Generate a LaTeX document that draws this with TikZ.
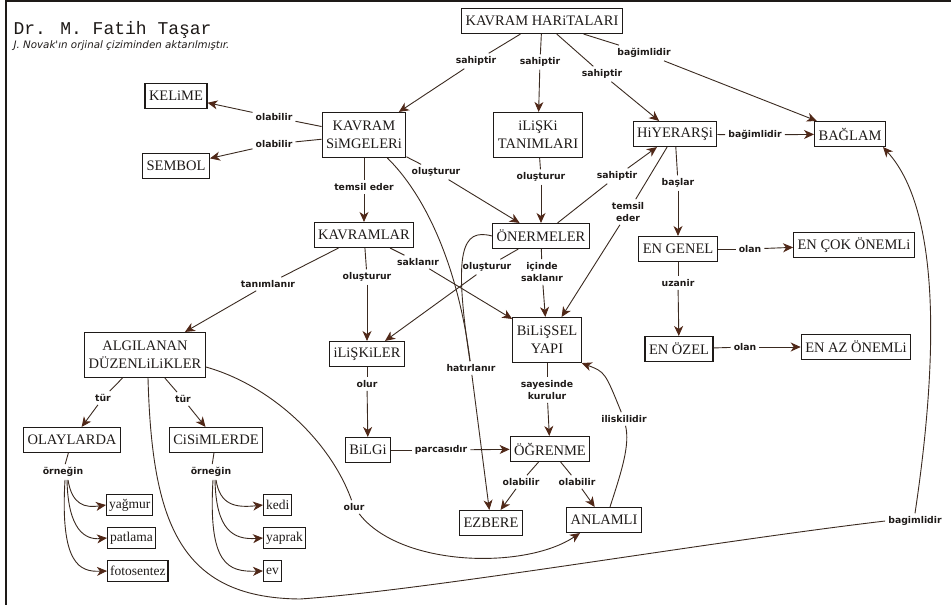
\documentclass[tikz,border=0pt]{standalone}
\usepackage{fontspec}
\setmainfont{Liberation Serif}
\newfontfamily\etiketyazi{DejaVu Sans}
\newfontfamily\daktilo{Liberation Mono}
\usetikzlibrary{arrows.meta}
\definecolor{cizgi}{RGB}{58,42,32}
\definecolor{okrengi}{RGB}{80,40,24}
\definecolor{yazi}{RGB}{30,26,24}

\begin{document}
\begin{tikzpicture}[x=1pt, y=-1pt,
      kutu/.style={rectangle, draw=yazi, line width=1.1pt, text=yazi, inner xsep=4pt, inner ysep=3pt, minimum height=25pt, font=\fontsize{14.5}{18}\selectfont},
      kutu2/.style={kutu, align=center, minimum height=45pt},
      kucuk/.style={kutu, minimum height=21pt, inner xsep=2.5pt, font=\fontsize{13.5}{15}\selectfont},
      etiket/.style={inner sep=3pt, text=yazi, align=center, font=\etiketyazi\bfseries\fontsize{9.3}{12}\selectfont},
      ok/.style={-{Stealth[length=10pt, width=9pt, inset=3pt, color=okrengi]}}]

\useasboundingbox (0,0) rectangle (951,605);
\draw[yazi, line width=1.5pt] (6,605) -- (6,1) -- (951,1);

\node[anchor=west, text=yazi, font=\daktilo\fontsize{18}{18}\selectfont] (baslik) at (10,30) {Dr. M. Fatih Taşar};
\node[anchor=west, text=yazi, font=\etiketyazi\itshape\fontsize{10.3}{11}\selectfont] (kaynak) at (10,46) {J. Novak'ın orjinal çiziminden aktarılmıştır.};

% kavramlar
\node[kutu] (kh) at (542,21) {KAVRAM HARiTALARI};
\node[kutu] (kel) at (176,96) {KELiME};
\node[kutu] (sem) at (176,166) {SEMBOL};
\node[kutu2] (ks) at (364,135) {KAVRAM\\SiMGELERi};
\node[kutu2] (it) at (538,135) {iLiŞKi\\TANIMLARI};
\node[kutu] (hiy) at (675,134) {HiYERARŞi};
\node[kutu] (bgl) at (850,134) {BAĞLAM};
\node[kutu] (kvr) at (364,235) {KAVRAMLAR};
\node[kutu] (on) at (541,236) {ÖNERMELER};
\node[kutu] (eng) at (678,249) {EN GENEL};
\node[kutu] (cok) at (854,245) {EN ÇOK ÖNEMLi};
\node[kutu2] (alg) at (145,355) {ALGILANAN\\DÜZENLiLiKLER};
\node[kutu] (ilk) at (367,354) {iLiŞKiLER};
\node[kutu2] (by) at (547,340) {BiLiŞSEL\\YAPI};
\node[kutu] (ozl) at (679,349) {EN ÖZEL};
\node[kutu] (az) at (856,347) {EN AZ ÖNEMLi};
\node[kutu] (oly) at (72,440) {OLAYLARDA};
\node[kutu] (cis) at (216,440) {CiSiMLERDE};
\node[kutu] (blg) at (368,450) {BiLGi};
\node[kutu] (ogr) at (550,449) {ÖĞRENME};
\node[kutu] (ezb) at (491,523) {EZBERE};
\node[kutu] (anl) at (604,520) {ANLAMLI};
\node[kucuk, anchor=west] (yag) at (106,505) {yağmur};
\node[kucuk, anchor=west] (pat) at (107,538) {patlama};
\node[kucuk, anchor=west] (fot) at (107,571) {fotosentez};
\node[kucuk, anchor=west] (ked) at (263,505) {kedi};
\node[kucuk, anchor=west] (yap) at (263,538) {yaprak};
\node[kucuk, anchor=west] (ev) at (263,571) {ev};

% baglanti etiketleri
\node[etiket] (sah1) at (476,61) {sahiptir};
\node[etiket] (sah2) at (540,62) {sahiptir};
\node[etiket] (sah3) at (602,74) {sahiptir};
\node[etiket] (bag1) at (644,53) {bağimlidir};
\node[etiket] (ola1) at (274,117) {olabilir};
\node[etiket] (ola2) at (274,144) {olabilir};
\node[etiket] (tem1) at (364,187) {temsil eder};
\node[etiket] (olu1) at (436,172) {oluşturur};
\node[etiket] (olu2) at (541,177) {oluşturur};
\node[etiket] (sah4) at (617,176) {sahiptir};
\node[etiket] (tem2) at (628,212) {temsil\\eder};
\node[etiket] (bas) at (678,183) {başlar};
\node[etiket] (bag2) at (755,135) {bağimlidir};
\node[etiket] (olan1) at (750,249) {olan};
\node[etiket] (uza) at (678,283) {uzanir};
\node[etiket] (olan2) at (745,347) {olan};
\node[etiket] (tan) at (268,284) {tanımlanır};
\node[etiket] (olu3) at (367,277) {oluşturur};
\node[etiket] (sak) at (418,262) {saklanır};
\node[etiket] (olu4) at (487,267) {oluşturur};
\node[etiket] (ics) at (542,272) {içinde\\saklanır};
\node[etiket] (hat) at (471,368) {hatırlanır};
\node[etiket] (say) at (547,390) {sayesinde\\kurulur};
\node[etiket] (olr1) at (367,384) {olur};
\node[etiket] (tur1) at (103,398) {tür};
\node[etiket] (tur2) at (183,399) {tür};
\node[etiket] (orn1) at (63,472) {örneğin};
\node[etiket] (orn2) at (211,472) {örneğin};
\node[etiket] (par) at (441,450) {parcasıdır};
\node[etiket] (ola3) at (521,482) {olabilir};
\node[etiket] (ola4) at (577,482) {olabilir};
\node[etiket] (ils) at (624,419) {iliskilidir};
\node[etiket] (olr2) at (354,507) {olur};
\node[etiket] (bag3) at (915,521) {bagimlidir};

\begin{scope}[draw=cizgi, line width=0.9pt]
\draw (kh) edge (sah1);
\draw[ok] (sah1) edge (ks);
\draw (kh) edge (sah2);
\draw[ok] (sah2) edge (it);
\draw (kh) edge (sah3);
\draw[ok] (sah3) edge (hiy);
\draw (kh) edge (bag1);
\draw[ok] (bag1) edge (bgl);
\draw (ks) edge (ola1);
\draw[ok] (ola1) edge (kel);
\draw (ks) edge (ola2);
\draw[ok] (ola2) edge (sem);
\draw (ks) edge (tem1);
\draw[ok] (tem1) edge (kvr);
\draw (ks) edge (olu1);
\draw[ok] (olu1) edge (on);
\draw (it) edge (olu2);
\draw[ok] (olu2) edge (on);
\draw (on) edge (sah4);
\draw[ok] (sah4) edge (hiy);
\draw (hiy) edge (tem2);
\draw[ok] (tem2) edge (by);
\draw (hiy) edge (bag2);
\draw[ok] (bag2) edge (bgl);
\draw (hiy) edge (bas);
\draw[ok] (bas) edge (eng);
\draw (eng) edge (olan1);
\draw[ok] (olan1) edge (cok);
\draw (eng) edge (uza);
\draw[ok] (uza) edge (ozl);
\draw (ozl) edge (olan2);
\draw[ok] (olan2) edge (az);
\draw (kvr) edge (tan);
\draw[ok] (tan) edge (alg);
\draw (kvr) edge (olu3);
\draw[ok] (olu3) edge (ilk);
\draw (kvr) edge (sak);
\draw[ok] (sak) edge (by);
\draw (on) edge (olu4);
\draw[ok] (olu4) edge (ilk);
\draw (on) edge (ics);
\draw[ok] (ics) edge (by);
\draw (ks) .. controls (425,195) and (458,265) .. (hat);
\draw (on.west) .. controls (462,228) and (453,250) .. (hat);
\draw[ok] (hat) edge (ezb);
\draw (by) edge (say);
\draw[ok] (say) edge (ogr);
\draw (ilk) edge (olr1);
\draw[ok] (olr1) edge (blg);
\draw (blg) edge (par);
\draw[ok] (par) edge (ogr);
\draw (ogr) edge (ola3);
\draw[ok] (ola3) edge (ezb);
\draw (ogr) edge (ola4);
\draw[ok] (ola4) edge (anl);
\draw ([xshift=6pt]anl.north) .. controls (622,470) and (630,445) .. (ils);
\draw[ok] (ils) .. controls (605,372) .. (by.south east);
\draw (alg) edge (tur1);
\draw[ok] (tur1) edge (oly);
\draw (alg) edge (tur2);
\draw[ok] (tur2) edge (cis);
\draw (oly) edge (orn1);
\draw (cis) edge (orn2);
\draw[ok] ([xshift=5pt]orn1.south) .. controls (72,505) and (85,508) .. (yag.west);
\draw[ok] ([xshift=4pt]orn1.south) .. controls (68,530) and (85,540) .. (pat.west);
\draw[ok] ([xshift=2pt]orn1.south) .. controls (60,565) and (80,572) .. (fot.west);
\draw[ok] ([xshift=5pt]orn2.south) .. controls (220,505) and (235,508) .. (ked.west);
\draw[ok] ([xshift=4pt]orn2.south) .. controls (216,530) and (233,540) .. (yap.west);
\draw[ok] ([xshift=2pt]orn2.south) .. controls (208,565) and (228,572) .. (ev.west);
\draw ([yshift=-12pt]alg.east) .. controls (270,385) and (330,440) .. (olr2);
\draw[ok] (olr2) .. controls (400,567) and (525,570) .. ([xshift=-24pt]anl.south);
\draw ([xshift=3pt]alg.south) .. controls (152,520) and (178,598) .. (300,599)
      .. controls (430,590) and (700,543) .. (bag3.west);
\draw[ok] (bag3.north) .. controls (935,380) and (945,215) .. ([xshift=-3pt]bgl.south east);
\end{scope}

\end{tikzpicture}
\end{document}
